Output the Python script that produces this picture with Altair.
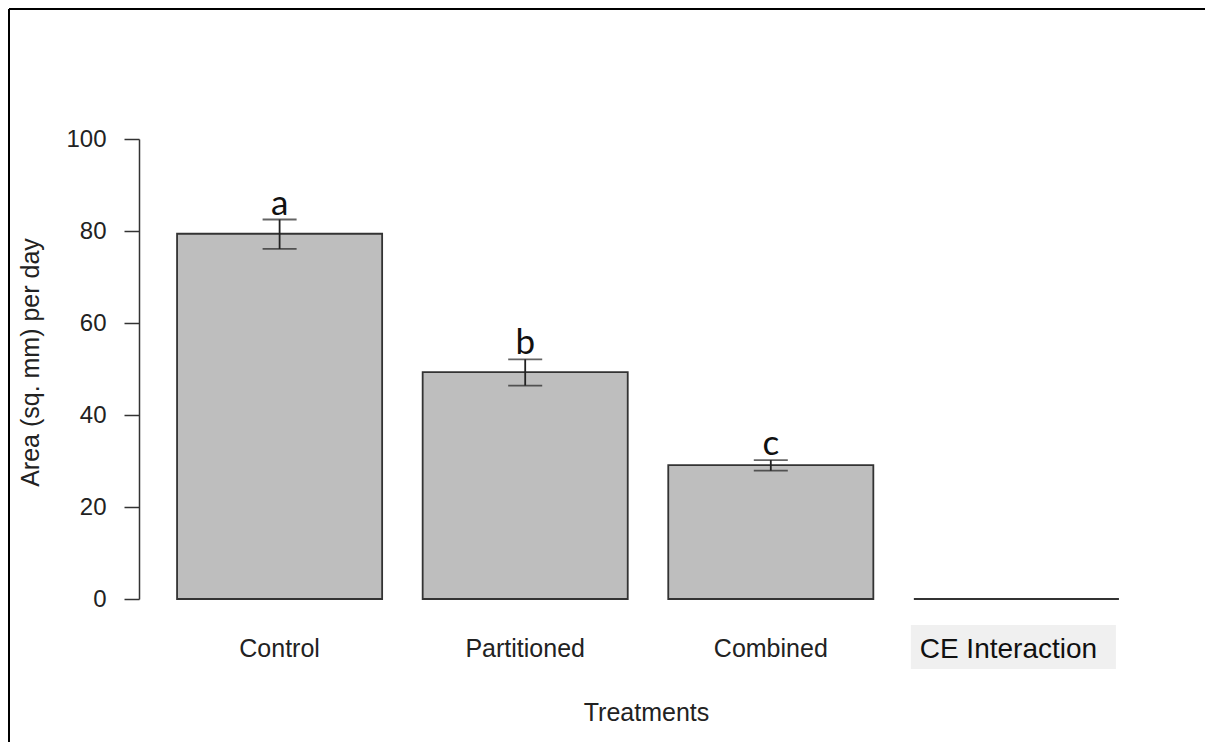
import altair as alt
import pandas as pd

# ---- data ----
categories = ["Control", "Partitioned", "Combined", "CE Interaction"]
means = [79.4, 49.3, 29.1, 0.0]
err_lo = [76.1, 46.4, 27.9, None]
err_hi = [82.5, 52.1, 30.2, None]
letters = ["a", "b", "c", ""]
y_ticks = [0, 20, 40, 60, 80, 100]

df = pd.DataFrame({
    "treatment": categories,
    "mean": means,
    "lo": err_lo,
    "hi": err_hi,
    "letter": letters,
})
df_err = df.dropna(subset=["lo", "hi"])
df_let = df[df["letter"] != ""]
df_ce = df[df["treatment"] == "CE Interaction"]
df_frame = pd.DataFrame({"k": [0]})

AXIS_FONT = "Liberation Sans"

x_enc = alt.X(
    "treatment:N",
    sort=categories,
    title="Treatments",
    scale=alt.Scale(paddingInner=0.165, paddingOuter=0.155),
    axis=alt.Axis(
        domain=False, ticks=False, tickSize=0, labelAngle=0,
        labelPadding=57, labelBaseline="alphabetic",
        labelFont=AXIS_FONT, labelFontSize=25, labelColor="#222",
        labelExpr="datum.label == 'CE Interaction' ? '' : datum.label",
        titleFont=AXIS_FONT, titleFontSize=25, titleFontWeight="normal",
        titleColor="#222", titleBaseline="alphabetic", titleY=121, titleX=507,
    ),
)

y_axis = alt.Axis(
    values=y_ticks, grid=False, tickSize=15, tickColor="#333", tickWidth=1.5,
    domainColor="#333", domainWidth=1.5, labelPadding=18, labelFlush=False,
    labelFont=AXIS_FONT, labelFontSize=24, labelColor="#222",
    titleFont=AXIS_FONT, titleFontSize=25, titleFontWeight="normal",
    titleColor="#222", titleBaseline="alphabetic", titleX=-101, titleY=223,
)
y_scale = alt.Scale(domain=[0, 100], nice=False)
TITLE_Y = "Area (sq. mm) per day"

base = alt.Chart(df)

bars = base.mark_bar(color="#bebebe", stroke="#333", strokeWidth=1.8).encode(
    x=x_enc,
    y=alt.Y("mean:Q", scale=y_scale, axis=y_axis, title=TITLE_Y),
)

err_rule = alt.Chart(df_err).mark_rule(color="#222", strokeWidth=1.8).encode(
    x=x_enc,
    y=alt.Y("lo:Q", scale=y_scale, axis=y_axis, title=TITLE_Y),
    y2="hi:Q",
)
cap_lo = alt.Chart(df_err).mark_tick(color="#222", thickness=1.8, size=34, orient="horizontal").encode(
    x=x_enc,
    y=alt.Y("lo:Q", scale=y_scale, axis=y_axis, title=TITLE_Y),
)
cap_hi = alt.Chart(df_err).mark_tick(color="#222", thickness=1.8, size=34, orient="horizontal").encode(
    x=x_enc,
    y=alt.Y("hi:Q", scale=y_scale, axis=y_axis, title=TITLE_Y),
)

letter_text = alt.Chart(df_let).mark_text(
    font="Lato", fontSize=35, color="#111", baseline="alphabetic", dy=-5
).encode(
    x=x_enc,
    y=alt.Y("hi:Q", scale=y_scale, axis=y_axis, title=TITLE_Y),
    text="letter:N",
)

ce_bg = alt.Chart(df_ce).mark_rect(color="#f0f0f0", xOffset=-3).encode(
    x=x_enc,
    y=alt.value(486),
    y2=alt.value(530),
)
ce_text = alt.Chart(df_ce).mark_text(
    font=AXIS_FONT, fontSize=28, color="#111", baseline="alphabetic", dx=-8
).encode(
    x=x_enc,
    y=alt.value(519),
    text="treatment:N",
)

frame_left = alt.Chart(df_frame).mark_rule(color="#000", strokeWidth=2).encode(
    x=alt.value(-130), y=alt.value(-130), y2=alt.value(603)
)
frame_top = alt.Chart(df_frame).mark_rule(color="#000", strokeWidth=2).encode(
    x=alt.value(-130), x2=alt.value(1066), y=alt.value(-130)
)

chart = alt.layer(
    frame_left, frame_top, bars, err_rule, cap_lo, cap_hi, letter_text, ce_bg, ce_text
).properties(
    width=1018, height=460, padding=0
).configure_view(strokeWidth=0)

chart.save("out.html", embed_options={"renderer": "svg", "actions": False})
